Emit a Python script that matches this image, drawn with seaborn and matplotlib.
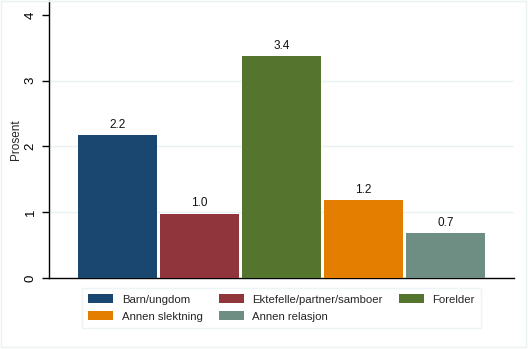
import matplotlib
matplotlib.use("Agg")
import matplotlib.pyplot as plt
import matplotlib.patches as mpatches
import seaborn as sns
import pandas as pd

categories = ["Barn/ungdom", "Ektefelle/partner/samboer", "Forelder",
              "Annen slektning", "Annen relasjon"]
values = [2.17, 0.98, 3.37, 1.18, 0.68]
colors = ["#1a476f", "#90353b", "#55752f", "#e37e00", "#6e8e84"]
yticks = [0, 1, 2, 3, 4]

sns.set_theme(style="white")
plt.rcParams["font.family"] = ["Liberation Sans", "DejaVu Sans"]

df = pd.DataFrame({"cat": categories, "val": values})

W, H = 528, 349
fig = plt.figure(figsize=(W / 100, H / 100), dpi=100)
fig.patch.set_facecolor("white")
ax = fig.add_axes([49 / W, (H - 278) / H, (514 - 49) / W, (278 - 1) / H])

sns.barplot(data=df, x="cat", y="val", hue="cat", palette=colors,
            dodge=False, width=0.965, legend=False, ax=ax,
            saturation=1, edgecolor="none", linewidth=0, zorder=3)

for c, v in zip(ax.containers, values):
    ax.bar_label(c, labels=[f"{v:.1f}"], padding=3, fontsize=8.5, color="#111111")

ax.set_xlim(-0.836, 4.836)
ax.set_ylim(0, 4.21)
ax.set_yticks(yticks)
ax.set_yticklabels([str(t) for t in yticks], rotation=90, va="center", fontsize=9.5)
ax.set_xticks([])
ax.set_xlabel("")
ax.set_ylabel("Prosent", fontsize=8.5, labelpad=2)
for y in yticks[1:-1]:
    ax.axhline(y, color="#eaf2f3", lw=1, zorder=1)

for s in ["top", "right"]:
    ax.spines[s].set_visible(False)
for s in ["left", "bottom"]:
    ax.spines[s].set_color("black")
    ax.spines[s].set_linewidth(1)
ax.tick_params(axis="y", which="both", left=True, length=5, width=1,
               color="black", pad=4, labelcolor="black")

handles = [mpatches.Patch(facecolor=col, edgecolor="none", label=cat)
           for cat, col in zip(categories, colors)]
# row-major order for a 2-row, 3-column legend
order = [0, 3, 1, 4, 2]
leg = fig.legend(handles=[handles[i] for i in order], ncol=3, loc="center",
                 bbox_to_anchor=((85 + 478) / 2 / W, 1 - 308 / H),
                 fontsize=8.2, frameon=True, fancybox=False,
                 handlelength=2.2, handleheight=0.85, handletextpad=0.75,
                 columnspacing=1.4, labelspacing=0.6, borderpad=0.55)
leg.get_frame().set_edgecolor("#eaf2f3")
leg.get_frame().set_linewidth(1)

frame = mpatches.Rectangle((1 / W, 2 / H), (W - 3) / W, (H - 3) / H,
                           transform=fig.transFigure, fill=False,
                           edgecolor="#eaf2f3", lw=1)
fig.patches.append(frame)

fig.savefig("out.png", dpi=100, facecolor="white")
